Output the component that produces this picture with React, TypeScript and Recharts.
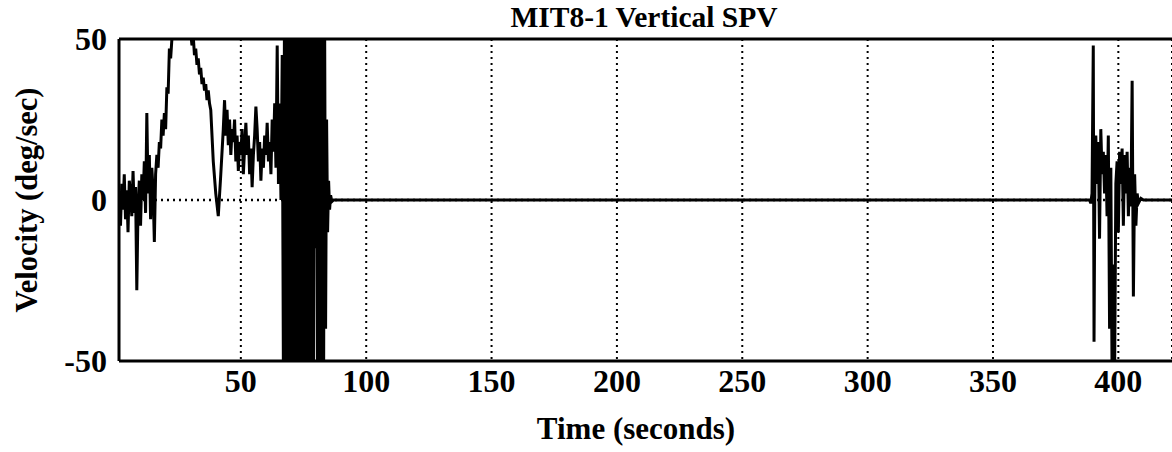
import { LineChart, Line, XAxis, YAxis, CartesianGrid, ReferenceLine } from "recharts";

const FONT = "'Liberation Serif', 'Times New Roman', serif";

const xTicks = [50, 100, 150, 200, 250, 300, 350, 400];
const yTicks = [-50, 0, 50];

// t 1.5 .. 66.5, pursuit before the burst
const earlyTime = [
  1.5, 2, 2.5, 3, 3.5, 4, 4.5, 5, 5.5, 6, 6.5, 7, 7.5, 8, 8.5, 9, 9.5, 10, 10.5, 11, 11.5, 12, 12.5, 13, 13.5,
  14, 14.5, 15, 15.5, 16, 16.5, 17, 17.5, 18, 18.5, 19, 19.5, 20, 20.5, 21, 21.5, 22, 22.5, 23, 23.5, 24, 24.5,
  25, 26, 27, 28, 29, 30, 30.5, 31, 31.5, 32, 32.5, 33, 33.5, 34, 34.5, 35, 35.5, 36, 36.5, 37, 37.5, 38,
  39, 40, 41, 42, 43, 43.5, 44, 44.5, 45, 45.5, 46, 46.5,
  47, 47.5, 48, 48.5, 49, 49.5, 50, 50.5, 51, 51.5, 52, 52.5, 53, 53.5, 54, 54.5, 55, 55.5, 56, 56.5, 57, 57.5,
  58, 58.5, 59, 59.5, 60, 60.5, 61, 61.5, 62, 62.5, 63, 63.5, 64, 64.5, 65, 65.5, 66, 66.5,
];
const earlyVel = [
  0, -8, 5, -3, 8, -6, 3, -10, 6, 2, -5, 9, -4, 4, -28, -2, 6, -8, 8, 0, 12, -4, 27, 2, 14,
  -6, 10, 3, -13, 8, 14, 10, 18, 16, 25, 20, 27, 22, 35, 33, 47, 44, 50, 52, 55, 51, 56,
  53, 58, 54, 57, 53, 52, 48, 51, 45, 47, 42, 44, 39, 41, 36, 38, 34, 36, 31, 34, 30, 28,
  12, 2, -5, 8, 22, 31, 20, 28, 17, 25, 14, 22,
  18, 25, 12, 20, 9, 18, 14, 22, 8, 16, 24, 14, 20, 8, 16, 4, 14, 20, 29, 22, 12, 18,
  6, 16, 10, 20, 14, 24, 12, 18, 8, 25, 15, 30, 10, 48, 5, 30, 0, 45,
];

// t 67 .. 87, saturated oscillation
const burstTime = [
  67, 67.4, 67.8, 68.2, 68.6, 69, 69.4, 69.8, 70.2, 70.6, 71, 71.4, 71.8, 72.2, 72.6, 73, 73.4, 73.8, 74.2,
  74.6, 75, 75.4, 75.8, 76.2, 76.6, 77, 77.4, 77.8, 78.2, 78.6, 79, 79.4, 79.8, 80.2, 80.6, 81, 81.4, 81.8,
  82.2, 82.6, 83, 83.4, 83.8, 84.2, 84.6, 85, 85.4, 85.8, 86.3, 87,
];
const burstVel = [
  -60, 60, -60, 60, -60, 60, -60, 60, -60, 60, -60, 60, -60, 60, -60, 60, -60, 60, -60,
  60, -60, 60, -60, 60, -60, 60, -60, 60, -60, 60, -60, 60, -15, 60, -60, 60, -60, 60,
  -60, 60, -60, 60, -40, 25, -10, 6, -3, 1.5, -0.5, 0,
];

// quiet stretch
const quietTime = [100, 150, 200, 250, 300, 350, 388];
const quietVel = [0, 0, 0, 0, 0, 0, 0];

// t 388.5 .. 421, second burst
const lateTime = [
  388.5, 389, 389.5, 390, 390.3, 390.7, 391, 391.5, 392, 392.5, 393, 393.5, 394, 394.5, 395, 395.5, 396,
  396.5, 397, 397.5, 398, 398.5, 399, 399.5, 400, 400.5, 401, 401.5, 402, 402.5, 403, 403.5, 404, 404.5,
  405, 405.5, 406, 406.5, 407, 407.5, 408, 409, 410, 421.5,
];
const lateVel = [
  0, -1, 2, 48, -44, 15, 20, 5, 18, -12, 22, 8, 15, 2, 14, -5, 20,
  -40, 10, -55, -20, -55, 5, 12, -10, 15, 5, 16, -8, 14, 2, 15, -5, 10,
  -2, 37, -30, 8, -8, 2, -1, 0.5, 0, 0,
];

const times = [...earlyTime, ...burstTime, ...quietTime, ...lateTime];
const vels = [...earlyVel, ...burstVel, ...quietVel, ...lateVel];
const data = times.map((t, i) => ({ t, v: vels[i] }));

export default function App() {
  const tickStyle = { fontFamily: FONT, fontWeight: 700, fontSize: 32, fill: "#000" };
  return (
    <div style={{ position: "absolute", left: 0, top: 0, width: 1172, height: 452, background: "#fff" }}>
      <LineChart width={1172} height={452} data={data} margin={{ top: 39, right: 0, bottom: 61, left: 0 }}>
        <CartesianGrid horizontal={false} vertical stroke="#000" strokeWidth={2} strokeDasharray="2 4" />
        <ReferenceLine y={0} stroke="#000" strokeWidth={2.5} strokeDasharray="2 4" />
        <ReferenceLine y={50} stroke="#000" strokeWidth={3} />
        <XAxis
          dataKey="t"
          type="number"
          domain={[1.4, 421.4]}
          ticks={xTicks}
          allowDataOverflow
          tickLine={false}
          axisLine={{ stroke: "#000", strokeWidth: 3 }}
          tick={tickStyle}
          tickMargin={2}
        />
        <YAxis
          type="number"
          domain={[-50, 50]}
          ticks={yTicks}
          allowDataOverflow
          width={119}
          tickLine={false}
          axisLine={{ stroke: "#000", strokeWidth: 3 }}
          tick={tickStyle}
          tickMargin={6}
        />
        <Line
          type="linear"
          dataKey="v"
          stroke="#000"
          strokeWidth={3}
          dot={false}
          isAnimationActive={false}
        />
      </LineChart>
      <div
        style={{
          position: "absolute", left: 644, top: 3, transform: "translateX(-50%)",
          fontFamily: FONT, fontWeight: 700, fontSize: 29.5, whiteSpace: "nowrap", lineHeight: 1,
        }}
      >
        MIT8-1 Vertical SPV
      </div>
      <div
        style={{
          position: "absolute", left: 636, top: 413, transform: "translateX(-50%)",
          fontFamily: FONT, fontWeight: 700, fontSize: 31, whiteSpace: "nowrap", lineHeight: 1,
        }}
      >
        Time (seconds)
      </div>
      <div
        style={{
          position: "absolute", left: 27, top: 200, transform: "translate(-50%, -50%) rotate(-90deg)",
          fontFamily: FONT, fontWeight: 700, fontSize: 30.5, whiteSpace: "nowrap", lineHeight: 1,
        }}
      >
        Velocity (deg/sec)
      </div>
    </div>
  );
}
